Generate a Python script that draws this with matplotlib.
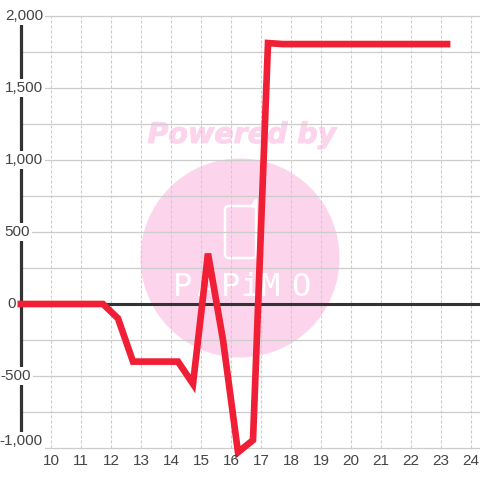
import matplotlib

matplotlib.use("Agg")
import matplotlib.patheffects as pe
import matplotlib.pyplot as plt
from matplotlib.patches import Circle, FancyBboxPatch
from matplotlib.transforms import IdentityTransform

hours = [8.9, 11.75, 12.25, 12.75, 14.25, 14.75, 15.25, 15.75, 16.25, 16.75, 17.25, 17.75, 23.33]
values = [0, 0, -100, -400, -400, -555, 350, -250, -1030, -945, 1812, 1805, 1805]

x_ticks = list(range(10, 25))
y_ticks = [-1000, -500, 0, 500, 1000, 1500, 2000]
y_minor = [-750, -250, 250, 750, 1250, 1750]
y_labels = ["-1,000", "-500", "0", "500", "1,000", "1,500", "2,000"]
label_right = [43, 31, 16, 30, 43, 43, 43]

plt.rcParams["font.family"] = ["Liberation Sans", "DejaVu Sans"]
TEXT = "#444444"
GRID = "#cccccc"
PINK = "#fcd5ec"
RED = "#f01f35"
DARK = "#333333"

fig = plt.figure(figsize=(4.8, 4.8), dpi=100)
ax = fig.add_axes([0, 0, 1, 1])
ax.set_xlim(10 - 50.5 / 30, 10 + 429.5 / 30)
ax.set_ylim((304 - 480) * 500 / 72, 304 * 500 / 72)
ax.axis("off")
ident = IdentityTransform()
axis_x = 9.0


def label(x, y, s, **kwargs):
    # x, y in picture pixels from the top left
    ax.text(x / 480, 1 - y / 480, s, transform=fig.transFigure, va="center", **kwargs)


# watermark
ax.add_patch(Circle((240, 480 - 258), 99.5, transform=ident, fc=PINK, ec="none", zorder=1))
label(242, 135, "Powered by", family="DejaVu Sans", weight="bold", style="italic",
      fontsize=20.5, color=PINK, ha="center", zorder=1,
      path_effects=[pe.withStroke(linewidth=0.7, foreground=PINK)])
ax.add_patch(FancyBboxPatch((225, 480 - 258), 31, 52, boxstyle="round,pad=0,rounding_size=4",
                            transform=ident, fc="none", ec="white", lw=1.8, zorder=2))
ax.plot([252, 256, 256], [480 - 206, 480 - 200, 480 - 206], transform=ident, color="white", lw=1.8, zorder=2)
for letter, lx in zip("PAPiMO", [183, 206, 230, 250, 270, 301]):
    label(lx, 288, letter, family="DejaVu Sans Mono", color="white", fontsize=23, ha="center", zorder=2)

# grid
x_right = ax.get_xlim()[1]
ax.hlines(y_ticks + y_minor, axis_x, x_right, color=GRID, lw=0.9, zorder=3)
ax.vlines(x_ticks, y_ticks[0], y_ticks[-1], color=GRID, lw=0.8, linestyles=(0, (2.7, 1.8)), zorder=3)

# axis lines
ax.axhline(0, xmin=(axis_x - ax.get_xlim()[0]) / (x_right - ax.get_xlim()[0]), color=DARK, lw=2.2, zorder=4)
ax.vlines(axis_x, y_ticks[0], y_ticks[-1], color=DARK, lw=2.3, zorder=4)

for value, text, right in zip(y_ticks, y_labels, label_right):
    py = 304 - value * 72 / 500
    if value == -1000:
        py -= 7
    label(right, py, text, color=TEXT, fontsize=11, ha="right", zorder=4.5,
          bbox=dict(fc="white", ec="none", pad=1.5))
for tick in x_ticks:
    label(51 + (tick - 10) * 30, 461, str(tick), color=TEXT, fontsize=11, ha="center", zorder=6)

ax.plot(hours, values, color=RED, lw=4.8, solid_capstyle="butt", solid_joinstyle="miter", clip_on=False, zorder=5)

fig.savefig("out.png", dpi=100, facecolor="white")
